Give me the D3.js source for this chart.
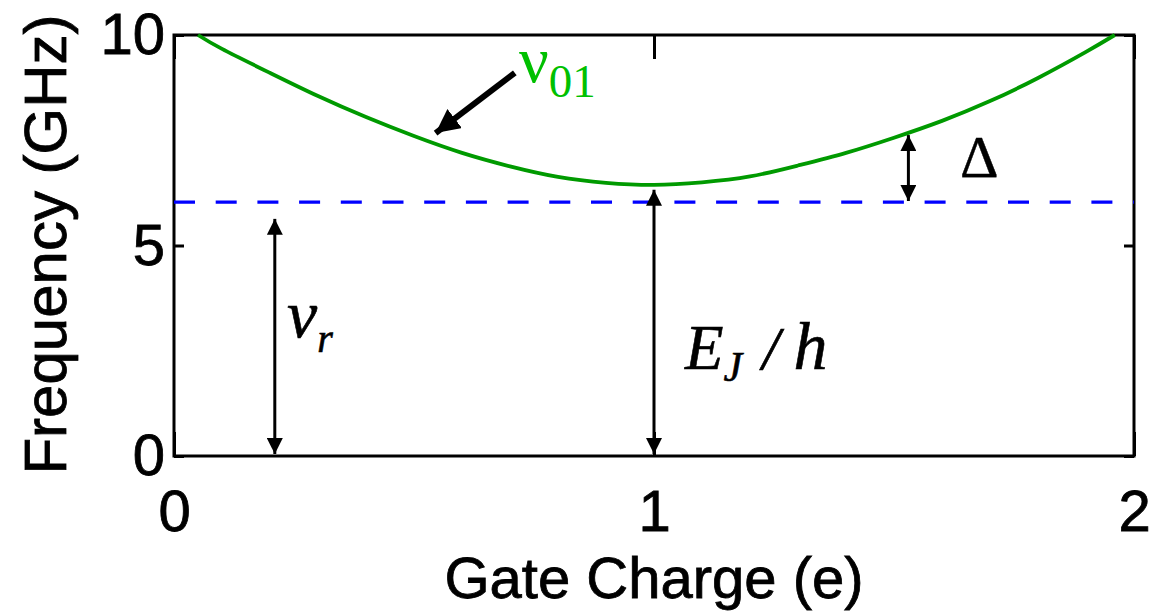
<!DOCTYPE html>
<html>
<head>
<meta charset="utf-8">
<script src="https://cdn.jsdelivr.net/npm/d3@7"></script>
<style>
  body { margin: 0; background: #fff; }
  svg { display: block; }
</style>
</head>
<body>
<svg id="chart" width="1150" height="615"></svg>
<script>
// Qubit transition frequency nu_01 versus gate charge (GHz)
const gateCharge = [0.05, 0.1, 0.2, 0.3, 0.4, 0.5, 0.6, 0.7, 0.8, 0.9, 1.0,
                    1.1, 1.2, 1.3, 1.4, 1.5, 1.6, 1.7, 1.8, 1.9, 1.96];
const freq01     = [10.0, 9.67, 9.10, 8.55, 8.05, 7.60, 7.20, 6.88, 6.63, 6.49, 6.44,
                    6.50, 6.64, 6.90, 7.20, 7.56, 7.96, 8.43, 8.98, 9.60, 10.0];

// Resonator frequency (dashed line)
const resonatorFreq = 6.03;

const xTicks = [0, 1, 2];
const yTicks = [0, 5, 10];
const xTitle = "Gate Charge (e)";
const yTitle = "Frequency (GHz)";

// Double-headed arrows: [gate charge, lower value, upper value]
const nuRArrow   = [0.21, 0.0, 5.68];
const ejArrow    = [1.0, 0.0, 6.37];
const deltaArrow = [1.53, 6.01, 7.67];
// Pointer from the nu_01 label to the curve: [x1, y1, x2, y2]
const pointerArrow = [0.71, 9.1, 0.545, 7.67];

const svg = d3.select("#chart");
const margin = { left: 174, right: 16, top: 35, bottom: 159 };
const W = 1150, H = 615;

const x = d3.scaleLinear().domain([0, 2]).range([margin.left, W - margin.right]);
const y = d3.scaleLinear().domain([0, 10]).range([H - margin.bottom, margin.top]);

const sans = "'Liberation Sans', Arial, Helvetica, sans-serif";
const serif = "'Liberation Serif', 'Times New Roman', serif";

// Arrowhead markers
const defs = svg.append("defs");
defs.append("marker")
  .attr("id", "head")
  .attr("markerUnits", "userSpaceOnUse")
  .attr("viewBox", "0 -8 16 16")
  .attr("refX", 16).attr("refY", 0)
  .attr("markerWidth", 16).attr("markerHeight", 16)
  .attr("orient", "auto-start-reverse")
  .append("path").attr("d", "M0,-8L16,0L0,8Z").attr("fill", "#000");
defs.append("marker")
  .attr("id", "bighead")
  .attr("markerUnits", "userSpaceOnUse")
  .attr("viewBox", "0 -12 24 24")
  .attr("refX", 24).attr("refY", 0)
  .attr("markerWidth", 24).attr("markerHeight", 24)
  .attr("orient", "auto")
  .append("path").attr("d", "M0,-12L24,0L0,12Z").attr("fill", "#000");

// Axes with inward ticks
const axisFont = g => g.selectAll("text")
  .attr("font-family", sans).attr("font-size", 58).attr("fill", "#000")
  .attr("stroke", "#000").attr("stroke-width", 0.8);

const gLeft = svg.append("g")
  .attr("transform", `translate(${margin.left},0)`)
  .call(d3.axisLeft(y).tickValues(yTicks).tickFormat(d3.format("d"))
        .tickSize(-10).tickSizeOuter(0).tickPadding(9));
gLeft.call(axisFont);

const gBottom = svg.append("g")
  .attr("transform", `translate(0,${H - margin.bottom})`)
  .call(d3.axisBottom(x).tickValues(xTicks).tickFormat(d3.format("d"))
        .tickSize(-24).tickSizeOuter(0).tickPadding(34));
gBottom.call(axisFont);

svg.append("g")
  .attr("transform", `translate(${W - margin.right},0)`)
  .call(d3.axisRight(y).tickValues(yTicks).tickFormat("")
        .tickSize(-10).tickSizeOuter(0));

svg.append("g")
  .attr("transform", `translate(0,${margin.top})`)
  .call(d3.axisTop(x).tickValues(xTicks).tickFormat("")
        .tickSize(-24).tickSizeOuter(0));

svg.selectAll(".domain").remove();
svg.selectAll(".tick line").attr("stroke", "#000").attr("stroke-width", 3);

// Plot frame
svg.append("rect")
  .attr("x", x(0)).attr("y", y(10))
  .attr("width", x(2) - x(0)).attr("height", y(0) - y(10))
  .attr("fill", "none").attr("stroke", "#000").attr("stroke-width", 3);

// Resonator line
svg.append("line")
  .attr("x1", x(0)).attr("x2", x(2))
  .attr("y1", y(resonatorFreq)).attr("y2", y(resonatorFreq))
  .attr("stroke", "#0000ff").attr("stroke-width", 3.2)
  .attr("stroke-dasharray", "21 20.7");

// nu_01 curve
const line = d3.line().x(d => x(d[0])).y(d => y(d[1])).curve(d3.curveNatural);
svg.append("path")
  .datum(gateCharge.map((g, i) => [g, freq01[i]]))
  .attr("d", line)
  .attr("fill", "none").attr("stroke", "#009a00").attr("stroke-width", 3.8);

// Double-headed arrows
function doubleArrow([gx, lo, hi]) {
  svg.append("line")
    .attr("x1", x(gx)).attr("x2", x(gx))
    .attr("y1", y(lo) - 2).attr("y2", y(hi) + 2)
    .attr("stroke", "#000").attr("stroke-width", 3)
    .attr("marker-start", "url(#head)").attr("marker-end", "url(#head)");
}
[nuRArrow, ejArrow, deltaArrow].forEach(doubleArrow);

// Pointer to the curve
svg.append("line")
  .attr("x1", x(pointerArrow[0])).attr("y1", y(pointerArrow[1]))
  .attr("x2", x(pointerArrow[2])).attr("y2", y(pointerArrow[3]))
  .attr("stroke", "#000").attr("stroke-width", 6)
  .attr("marker-end", "url(#bighead)");

// Symbol labels
const nu01 = svg.append("text").attr("x", 519).attr("y", 82)
  .attr("font-family", serif).attr("fill", "#00c000");
nu01.append("tspan").attr("font-size", 66).text("ν");
nu01.append("tspan").attr("font-size", 47).attr("dy", 15).text("01");

svg.append("text").attr("x", 960).attr("y", 177)
  .attr("font-family", serif).attr("font-size", 60).attr("fill", "#000")
  .attr("stroke", "#000").attr("stroke-width", 0.4)
  .text("Δ");

const nur = svg.append("text").attr("x", 287).attr("y", 337)
  .attr("font-family", serif).attr("font-style", "italic").attr("fill", "#000")
  .attr("stroke", "#000").attr("stroke-width", 0.6);
nur.append("tspan").attr("font-size", 68).text("ν");
nur.append("tspan").attr("font-size", 40).attr("dy", 15).text("r");

const ej = svg.append("text").attr("x", 685).attr("y", 369)
  .attr("font-family", serif).attr("font-style", "italic").attr("fill", "#000")
  .attr("stroke", "#000").attr("stroke-width", 0.6);
ej.append("tspan").attr("font-size", 63).text("E");
ej.append("tspan").attr("font-size", 42).attr("dy", 12).text("J");
ej.append("tspan").attr("font-size", 62).attr("dy", -12).attr("dx", 20).text("/");
ej.append("tspan").attr("font-size", 68).attr("dx", 14).text("h");

// Axis titles
svg.append("text")
  .attr("x", x(1)).attr("y", 598)
  .attr("text-anchor", "middle")
  .attr("font-family", sans).attr("font-size", 58).attr("fill", "#000")
  .attr("stroke", "#000").attr("stroke-width", 0.8)
  .text(xTitle);

svg.append("text")
  .attr("transform", `translate(66,${(y(0) + y(10)) / 2 - 1}) rotate(-90)`)
  .attr("text-anchor", "middle")
  .attr("font-family", sans).attr("font-size", 60).attr("fill", "#000")
  .attr("stroke", "#000").attr("stroke-width", 0.8)
  .text(yTitle);
</script>
</body>
</html>
